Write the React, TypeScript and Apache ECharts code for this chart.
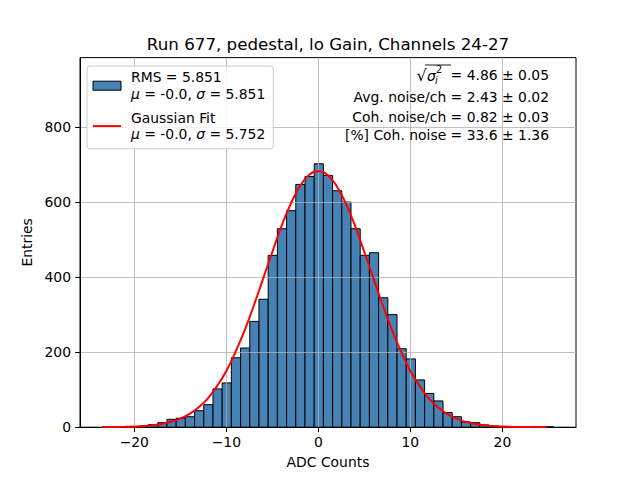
import { useEffect, useRef } from "react";
import * as echarts from "echarts";

const FONT = "DejaVu Sans";
const TITLE = "Run 677, pedestal, lo Gain, Channels 24-27";

// histogram bins: 49 bins of width 1 starting at the data minimum
const BIN_START = -23.45;
const BIN_WIDTH = 1;
const counts = [
  1, 0, 0, 1, 3, 7, 12, 21, 24, 28, 44, 60, 102, 118, 185, 211, 282, 341, 458,
  529, 577, 647, 668, 702, 671, 630, 600, 529, 458, 465, 345, 300, 209, 182,
  126, 90, 70, 39, 28, 14, 12, 6, 3, 1, 1, 0, 0, 0, 1,
];

// gaussian fit curve
const fitX = [
  -23.5, -22, -21, -20, -19, -18, -17, -16, -15, -14, -13, -12, -11, -10, -9,
  -8, -7, -6, -5, -4, -3, -2, -1, 0, 1, 2, 3, 4, 5, 6, 7, 8, 9, 10, 11, 12, 13,
  14, 15, 16, 17, 18, 19, 20, 21, 22, 23, 24, 24.8,
];
const fitY = [
  0.2, 0.5, 0.9, 1.6, 2.9, 5.1, 8.6, 14.3, 22.8, 35.3, 53, 77, 110, 150, 201,
  259, 325, 396, 467, 536, 595, 642, 672, 682, 672, 642, 595, 536, 467, 396,
  325, 259, 201, 150, 110, 77, 53, 35.3, 22.8, 14.3, 8.6, 5.1, 2.9, 1.6, 0.9,
  0.5, 0.3, 0.1, 0.1,
];

const xTicks = [-20, -10, 0, 10, 20];
const yTicks = [0, 200, 400, 600, 800];

const histLegend = ["RMS = 5.851", "{i|μ} = -0.0, {i|σ} = 5.851"];
const fitLegend = ["Gaussian Fit", "{i|μ} = -0.0, {i|σ} = 5.752"];
const noiseValue = "= 4.86 ± 0.05";
const statLines = [
  "Avg. noise/ch = 2.43 ± 0.02",
  "Coh. noise/ch = 0.82 ± 0.03",
  "[%] Coh. noise = 33.6 ± 1.36",
];

const minus = (v: number) => (v < 0 ? "\u2212" + Math.abs(v) : String(v));

function txt(x: number, y: number, text: string, size: number, align: string, extra: any = {}) {
  return {
    type: "text",
    x,
    y,
    z: 20,
    style: {
      text,
      fontSize: size,
      fontFamily: FONT,
      fill: "#000",
      align,
      textAlign: align,
      verticalAlign: "middle",
      textVerticalAlign: "middle",
      ...extra,
    },
  };
}

function buildOption(): any {
  const histData = counts.map((c, i) => [
    BIN_START + i * BIN_WIDTH,
    BIN_START + (i + 1) * BIN_WIDTH,
    c,
  ]);
  const fitData = fitX.map((x, i) => [x, fitY[i]]);

  return {
    animation: false,
    textStyle: { fontFamily: FONT },
    grid: {
      left: 80,
      right: 64,
      top: 57.6,
      bottom: 52.8,
      show: true,
      borderColor: "#000",
      borderWidth: 1,
      backgroundColor: "transparent",
    },
    xAxis: {
      type: "value",
      min: -25.9,
      max: 28.0,
      z: 3,
      axisLine: { show: true, onZero: false, lineStyle: { color: "#000", width: 1 } },
      axisTick: { show: true, length: 4.9, lineStyle: { color: "#000" }, customValues: xTicks },
      axisLabel: {
        customValues: xTicks,
        margin: 8,
        color: "#000",
        fontSize: 13.9,
        fontFamily: FONT,
        formatter: (v: number) => minus(v),
      },
      splitLine: { show: true, lineStyle: { color: "#b0b0b0", width: 0.8 } },
      name: "ADC Counts",
      nameLocation: "middle",
      nameGap: 28,
      nameTextStyle: { color: "#000", fontSize: 13.9, fontFamily: FONT },
    },
    yAxis: {
      type: "value",
      min: 0,
      max: 985,
      z: 3,
      axisLine: { show: true, onZero: false, lineStyle: { color: "#000", width: 1 } },
      axisTick: { show: true, length: 4.9, lineStyle: { color: "#000" }, customValues: yTicks },
      axisLabel: {
        customValues: yTicks,
        margin: 9,
        color: "#000",
        fontSize: 13.9,
        fontFamily: FONT,
      },
      splitLine: { show: true, lineStyle: { color: "#b0b0b0", width: 0.8 } },
      name: "Entries",
      nameLocation: "middle",
      nameGap: 42,
      nameRotate: 90,
      nameTextStyle: { color: "#000", fontSize: 13.9, fontFamily: FONT },
    },
    legend: {
      show: true,
      orient: "vertical",
      left: 87,
      top: 66,
      z: 10,
      selectedMode: false,
      padding: [3, 8, 6, 5],
      itemWidth: 28,
      itemHeight: 9,
      itemGap: 7,
      backgroundColor: "rgba(255,255,255,0.8)",
      borderColor: "#cccccc",
      borderWidth: 1,
      borderRadius: 3,
      data: [
        {
          name: "hist",
          icon: "rect",
          itemStyle: { color: "#4682b4", borderColor: "#000", borderWidth: 1 },
        },
        { name: "fit", itemStyle: { opacity: 0 } },
      ],
      formatter: (name: string) =>
        (name === "hist" ? histLegend : fitLegend).join("\n"),
      textStyle: {
        color: "#000",
        fontFamily: FONT,
        fontSize: 13.9,
        lineHeight: 16.7,
        padding: [0, 0, 0, 5],
        rich: {
          i: { fontStyle: "italic", fontFamily: FONT, fontSize: 13.9, lineHeight: 16.7, color: "#000" },
        },
      },
    },
    graphic: [
      txt(328, 44, TITLE, 16.7, "center"),
      txt(549, 75, noiseValue, 13.9, "right"),
      txt(416.5, 75.5, "√", 16, "left"),
      {
        type: "line",
        z: 20,
        shape: { x1: 425, y1: 65, x2: 451, y2: 65 },
        style: { stroke: "#000", lineWidth: 0.9 },
      },
      txt(427, 76, "σ", 13.9, "left", { fontStyle: "italic" }),
      txt(436, 69, "2", 9.7, "left"),
      txt(435, 80, "i", 9.7, "left", { fontStyle: "italic" }),
      ...statLines.map((s, i) => txt(549, [97.3, 117.3, 135][i], s, 13.9, "right")),
    ],
    series: [
      {
        name: "hist",
        type: "custom",
        z: 2,
        data: histData,
        encode: { x: [0, 1], y: 2 },
        renderItem: (_params: any, api: any) => {
          const p0 = api.coord([api.value(0), api.value(2)]);
          const p1 = api.coord([api.value(1), 0]);
          return {
            type: "rect",
            shape: { x: p0[0], y: p0[1], width: p1[0] - p0[0], height: p1[1] - p0[1] },
            style: { fill: "#4682b4", stroke: "#000", lineWidth: 1 },
          };
        },
      },
      {
        name: "fit",
        type: "line",
        z: 5,
        data: fitData,
        smooth: true,
        symbol: "none",
        showSymbol: false,
        lineStyle: { color: "#ff0000", width: 2 },
        itemStyle: { color: "#ff0000" },
      },
    ],
  };
}

export default function App() {
  const chartRef = useRef<HTMLDivElement | null>(null);

  useEffect(() => {
    if (!chartRef.current) return;
    const instance = echarts.init(chartRef.current, undefined, { renderer: "svg" });
    instance.setOption(buildOption());
    return () => {
      instance.dispose();
    };
  }, []);

  return (
    <div
      ref={chartRef}
      style={{ position: "fixed", left: 0, top: 0, width: 640, height: 480, background: "#fff" }}
    />
  );
}
